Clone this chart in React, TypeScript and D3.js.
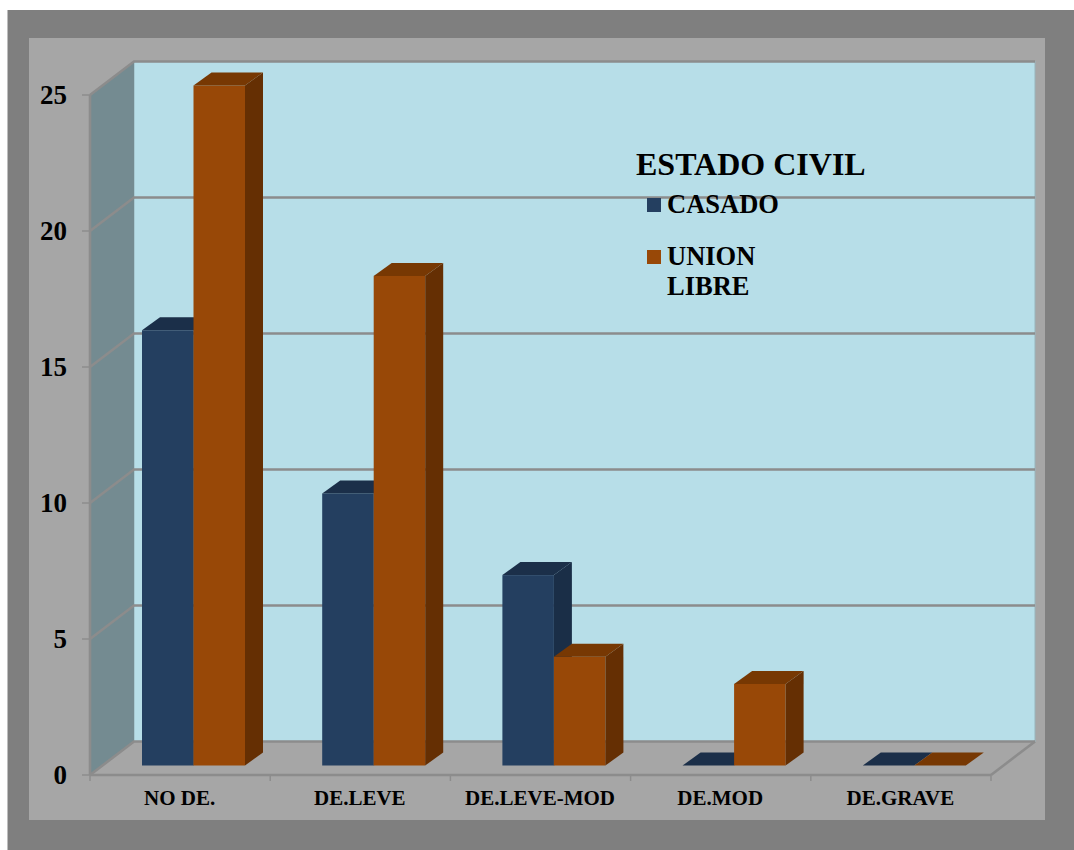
import React from "react";
import * as d3 from "d3";

const categories = ["NO DE.", "DE.LEVE", "DE.LEVE-MOD", "DE.MOD", "DE.GRAVE"];
const casado = [16, 10, 7, 0, 0];
const unionLibre = [25, 18, 4, 3, 0];
const yTicks = [0, 5, 10, 15, 20, 25];
const legendTitle = "ESTADO CIVIL";

const GRID = "#8c8c8c";
const FONT = "'Liberation Serif', serif";

const x = d3.scaleBand<string>().domain(categories).range([90, 991]);
const y = d3.scaleLinear().domain([0, 25]).range([775, 95]);
const DX = 44, DY = 33.5;     // wall depth
const BX = 18, BY = 13;       // bar depth
const OFF = 52, BW = 51.5;    // bar offset in a category, bar width
const LIFT = 9.5;             // bar base above front axis

const pts = (p: number[][]) => p.map(q => q.join(",")).join(" ");

function Bar({ x0, v, face, side, top }: { x0: number; v: number; face: string; side: string; top: string }) {
  const b = y(0) - LIFT;
  const t = y(v) - LIFT;
  const x1 = x0 + BW;
  return (
    <g>
      {v > 0 && <rect x={x0} y={t} width={BW} height={b - t} fill={face} />}
      {v > 0 && <polygon points={pts([[x1, t], [x1 + BX, t - BY], [x1 + BX, b - BY], [x1, b]])} fill={side} />}
      <polygon points={pts([[x0, t], [x0 + BX, t - BY], [x1 + BX, t - BY], [x1, t]])} fill={top} />
    </g>
  );
}

export default function App() {
  const x0 = 90, x1 = 991;
  const y0 = y(0), yt = y(25);
  return (
    <svg width={1074} height={850} style={{ position: "absolute", left: 0, top: 0 }}>
      <rect x={7.5} y={10} width={1066.5} height={840} fill="#7f7f7f" />
      <rect x={29} y={38} width={1016} height={782} fill="#a6a6a6" />
      {/* back wall */}
      <rect x={x0 + DX} y={yt - DY} width={x1 - x0} height={y0 - yt} fill="#b7dee8" stroke="#98b4bb" strokeWidth={1} />
      {/* side wall */}
      <polygon points={pts([[x0, yt], [x0 + DX, yt - DY], [x0 + DX, y0 - DY], [x0, y0]])} fill="#748b91" />
      {/* floor */}
      <polygon points={pts([[x0, y0], [x0 + DX, y0 - DY], [x1 + DX, y0 - DY], [x1, y0]])} fill="#a6a6a6" />
      {/* gridlines */}
      {yTicks.map(t => (
        <polyline key={t} fill="none" stroke={GRID} strokeWidth={2.6}
          points={pts([[x0, y(t)], [x0 + DX, y(t) - DY], [x1 + DX, y(t) - DY]])} />
      ))}
      <line x1={x1} y1={y0} x2={x1 + DX} y2={y0 - DY} stroke={GRID} strokeWidth={2.6} />
      {/* axes */}
      <line x1={x0} y1={yt} x2={x0} y2={y0} stroke={GRID} strokeWidth={2.6} />
      <line x1={x0} y1={y0} x2={x1} y2={y0} stroke={GRID} strokeWidth={2.6} />
      {yTicks.map(t => (
        <line key={t} x1={x0 - 8} x2={x0} y1={y(t)} y2={y(t)} stroke={GRID} strokeWidth={1.5} />
      ))}
      {[...categories.map(c => x(c)!), x1].map((px, i) => (
        <line key={i} x1={px} x2={px} y1={y0} y2={y0 + 6} stroke={GRID} strokeWidth={1.5} />
      ))}
      {/* bars */}
      {categories.map((c, i) => (
        <g key={c}>
          <Bar x0={x(c)! + OFF} v={casado[i]} face="#243f60" side="#1a2e47" top="#1b2f49" />
          <Bar x0={x(c)! + OFF + BW} v={unionLibre[i]} face="#984807" side="#652f03" top="#773803" />
        </g>
      ))}
      {/* tick labels */}
      {yTicks.map(t => (
        <text key={t} x={67} y={y(t) + 9} textAnchor="end" fontFamily={FONT} fontWeight="bold" fontSize={27} fill="#000">{t}</text>
      ))}
      {categories.map(c => (
        <text key={c} x={x(c)! + x.bandwidth() / 2 - 0.5} y={805} textAnchor="middle" fontFamily={FONT} fontWeight="bold" fontSize={21} fill="#000">{c}</text>
      ))}
      {/* legend */}
      <text x={636} y={175} fontFamily={FONT} fontWeight="bold" fontSize={32} fill="#000">{legendTitle}</text>
      <rect x={647} y={198} width={14} height={14} fill="#243f60" />
      <text x={667} y={213} fontFamily={FONT} fontWeight="bold" fontSize={26.5} fill="#000">CASADO</text>
      <rect x={647} y={250} width={14} height={14} fill="#984807" />
      <text x={667} y={265} fontFamily={FONT} fontWeight="bold" fontSize={26.5} fill="#000">UNION</text>
      <text x={667} y={295} fontFamily={FONT} fontWeight="bold" fontSize={26.5} fill="#000">LIBRE</text>
    </svg>
  );
}
